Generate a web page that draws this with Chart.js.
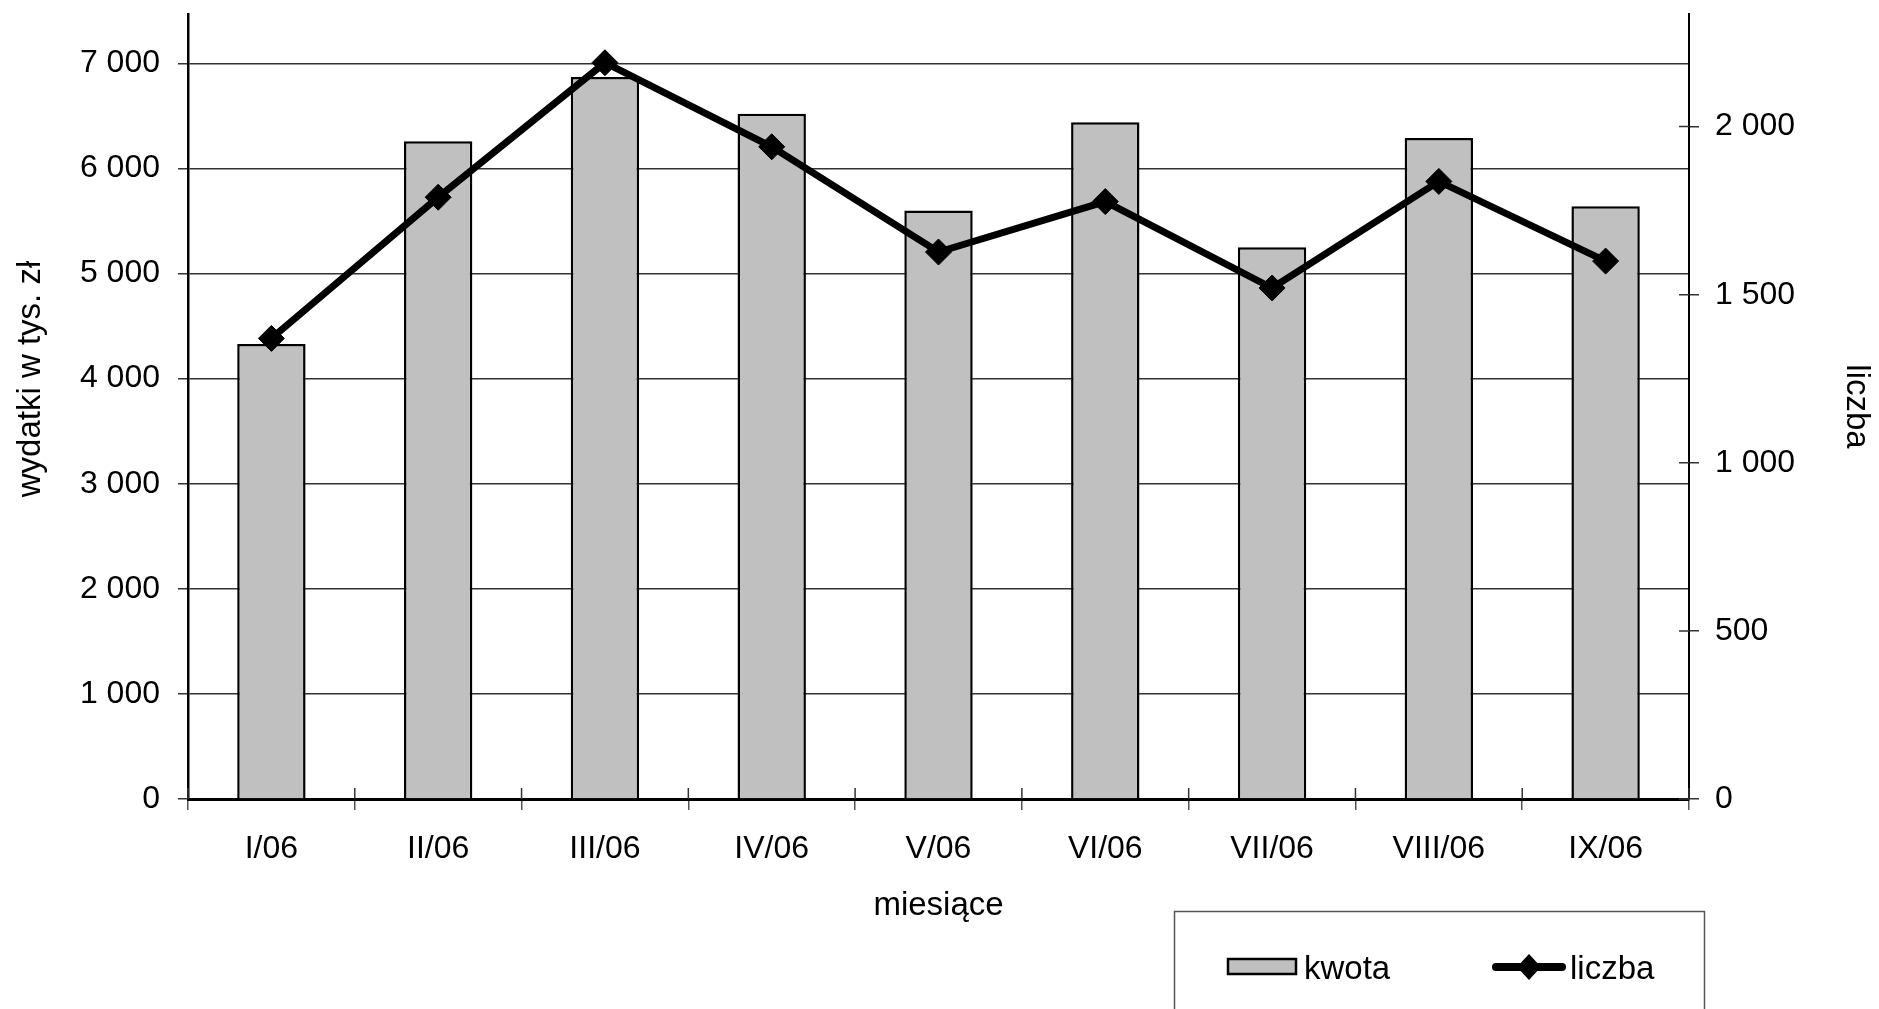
<!DOCTYPE html>
<html>
<head>
<meta charset="utf-8">
<script src="https://cdn.jsdelivr.net/npm/chart.js@4"></script>
<style>
  body { margin: 0; background: #fff; }
  #box { width: 1879px; height: 1009px; }
</style>
</head>
<body>
<div id="box"><canvas id="wykres"></canvas></div>
<script>
// dane
const miesiace = ['I/06', 'II/06', 'III/06', 'IV/06', 'V/06', 'VI/06', 'VII/06', 'VIII/06', 'IX/06'];
const kwota = [4330, 6260, 6870, 6520, 5600, 6440, 5250, 6290, 5640];
const liczba = [1370, 1790, 2190, 1940, 1627, 1777, 1520, 1837, 1600];
const tickiKwota = [0, 1000, 2000, 3000, 4000, 5000, 6000, 7000];
const tickiLiczba = [0, 500, 1000, 1500, 2000];
const maxKwota = 7470;
const maxLiczba = 2335;

Chart.defaults.font.family = "'Liberation Sans', Arial, sans-serif";
Chart.defaults.color = '#000';

function spacje(v) {
    return String(v).replace(/\B(?=(\d{3})+(?!\d))/g, ' ');
}

function bezPaddingu(s) {
    s.paddingTop = 0;
    s.paddingBottom = 0;
    s.paddingLeft = 0;
    s.paddingRight = 0;
}

// male kreski ticków do środka wykresu (jak w Excelu)
const kreskiWewn = {
    id: 'kreskiWewn',
    beforeDatasetsDraw(chart) {
        const { ctx, chartArea, scales } = chart;
        ctx.save();
        ctx.strokeStyle = '#333';
        ctx.lineWidth = 1.5;
        ctx.beginPath();
        scales.y1.ticks.forEach(t => {
            const py = scales.y1.getPixelForValue(t.value);
            ctx.moveTo(chartArea.right - 10, py);
            ctx.lineTo(chartArea.right, py);
        });
        for (let i = 0; i <= miesiace.length; i++) {
            const px = scales.x.getPixelForValue(i - 0.5);
            ctx.moveTo(px, chartArea.bottom - 11);
            ctx.lineTo(px, chartArea.bottom);
        }
        ctx.stroke();
        ctx.restore();
    }
};

// legenda w ramce pod wykresem
const legenda = {
    id: 'legenda',
    afterDraw(chart) {
        const ctx = chart.ctx;
        const ds = chart.data.datasets;
        ctx.save();
        ctx.strokeStyle = '#555';
        ctx.lineWidth = 1.5;
        ctx.strokeRect(1174.5, 911.5, 530, 120);

        ctx.fillStyle = ds[0].backgroundColor;
        ctx.fillRect(1228, 959, 68, 15);
        ctx.strokeStyle = '#000';
        ctx.lineWidth = 2.5;
        ctx.strokeRect(1228, 959, 68, 15);

        ctx.font = "33px 'Liberation Sans', Arial, sans-serif";
        ctx.fillStyle = '#000';
        ctx.textBaseline = 'alphabetic';
        ctx.fillText(ds[0].label, 1304, 979);

        ctx.lineWidth = 8;
        ctx.lineCap = 'round';
        ctx.beginPath();
        ctx.moveTo(1496, 967);
        ctx.lineTo(1562, 967);
        ctx.stroke();
        ctx.beginPath();
        ctx.moveTo(1529, 954);
        ctx.lineTo(1541, 967);
        ctx.lineTo(1529, 980);
        ctx.lineTo(1517, 967);
        ctx.closePath();
        ctx.fill();
        ctx.fillText(ds[1].label, 1570, 979);
        ctx.restore();
    }
};

new Chart(document.getElementById('wykres'), {
    type: 'bar',
    data: {
        labels: miesiace,
        datasets: [{
            label: 'kwota',
            data: kwota,
            yAxisID: 'y',
            backgroundColor: '#C0C0C0',
            borderColor: '#000',
            borderWidth: 2.5,
            barPercentage: 0.41,
            categoryPercentage: 1,
            order: 1
        }, {
            type: 'line',
            label: 'liczba',
            data: liczba,
            yAxisID: 'y1',
            borderColor: '#000',
            borderWidth: 7,
            tension: 0,
            pointStyle: 'rectRot',
            pointRadius: 13,
            pointBackgroundColor: '#000',
            pointBorderColor: '#000',
            pointBorderWidth: 1,
            order: 0
        }]
    },
    options: {
        responsive: true,
        maintainAspectRatio: false,
        animation: false,
        layout: { padding: { top: 14, left: 0, right: 0, bottom: 83 } },
        plugins: {
            legend: { display: false },
            tooltip: { enabled: false }
        },
        scales: {
            x: {
                offset: true,
                grid: { offset: true, drawOnChartArea: false, drawTicks: true, tickLength: 11, color: '#555', lineWidth: 1.5 },
                border: { color: '#000', width: 3 },
                ticks: { font: { size: 32 }, padding: 20, maxRotation: 0, autoSkip: false },
                title: { display: true, text: 'miesiące', font: { size: 33 }, padding: 0 },
                afterFit(s) { s.height = 127; bezPaddingu(s); }
            },
            y: {
                position: 'left',
                min: 0,
                max: maxKwota,
                grid: { color: '#333', lineWidth: 1.5, tickLength: 10 },
                border: { color: '#000', width: 2.5 },
                ticks: { font: { size: 32 }, padding: 18, callback: v => spacje(v) },
                afterBuildTicks(s) { s.ticks = tickiKwota.map(v => ({ value: v })); },
                title: { display: true, text: '      wydatki w tys. zł', font: { size: 33 }, padding: { top: 11, bottom: 0 } },
                afterFit(s) { s.width = 188; bezPaddingu(s); }
            },
            y1: {
                position: 'right',
                min: 0,
                max: maxLiczba,
                grid: { drawOnChartArea: false, color: '#333', lineWidth: 1.5, tickLength: 10 },
                border: { color: '#000', width: 2 },
                ticks: { font: { size: 32 }, padding: 16, callback: v => spacje(v) },
                afterBuildTicks(s) { s.ticks = tickiLiczba.map(v => ({ value: v })); },
                title: { display: true, text: 'liczba', font: { size: 33 }, padding: { top: 3, bottom: 0 } },
                afterFit(s) { s.width = 190; bezPaddingu(s); }
            }
        }
    },
    plugins: [kreskiWewn, legenda]
});
</script>
</body>
</html>
